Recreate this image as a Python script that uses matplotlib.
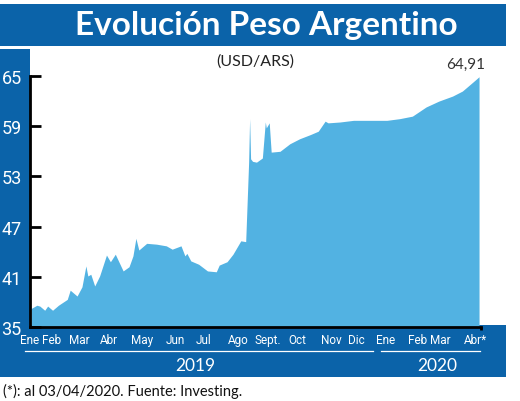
import matplotlib
matplotlib.use("Agg")
from matplotlib import pyplot as plt
from matplotlib.patches import Rectangle
from matplotlib.lines import Line2D
import numpy as np

# USD/ARS daily-ish readings
fechas = ['2019-01-02', '2019-01-08', '2019-01-11', '2019-01-16', '2019-01-19',
          '2019-01-24', '2019-01-30', '2019-02-08', '2019-02-11', '2019-02-18',
          '2019-02-23', '2019-02-27', '2019-03-01', '2019-03-04', '2019-03-08',
          '2019-03-13', '2019-03-20', '2019-03-24', '2019-03-29', '2019-04-06',
          '2019-04-12', '2019-04-16', '2019-04-19', '2019-04-22', '2019-04-30',
          '2019-05-10', '2019-05-20', '2019-05-26', '2019-06-04', '2019-06-08',
          '2019-06-10', '2019-06-14', '2019-06-22', '2019-07-01', '2019-07-10',
          '2019-07-13', '2019-07-21', '2019-07-27', '2019-07-30', '2019-08-04',
          '2019-08-09', '2019-08-12', '2019-08-13', '2019-08-14', '2019-08-16',
          '2019-08-20', '2019-08-26', '2019-08-29', '2019-08-30', '2019-09-02',
          '2019-09-04', '2019-09-13', '2019-09-23', '2019-10-03', '2019-10-14',
          '2019-10-22', '2019-10-29', '2019-11-01', '2019-11-13', '2019-11-27',
          '2019-12-14', '2019-12-31', '2020-01-13', '2020-01-26', '2020-02-09',
          '2020-02-22', '2020-03-07', '2020-03-17', '2020-03-28', '2020-04-03']
usd_ars = [37.2, 37.6, 37.5, 37.0, 37.5,
           37.0, 37.6, 38.3, 39.4, 38.7,
           39.8, 42.3, 41.1, 41.3, 39.9,
           41.1, 43.6, 42.8, 43.7, 41.7,
           42.2, 43.5, 45.6, 44.2, 45.0,
           44.9, 44.7, 44.3, 44.7, 43.5,
           43.8, 42.9, 42.5, 41.7, 41.6,
           42.4, 42.8, 43.7, 44.3, 45.3,
           45.2, 54.7, 59.9, 55.1, 54.8,
           54.7, 55.2, 59.5, 58.8, 59.4,
           55.9, 56.0, 56.9, 57.5, 58.0,
           58.4, 59.6, 59.4, 59.5, 59.7,
           59.7, 59.7, 59.9, 60.2, 61.3,
           62.0, 62.6, 63.2, 64.3, 64.91]

y_ticks = [35, 41, 47, 53, 59, 65]

# month labels (positions follow the reference layout)
mes_pos = ['2019-01-01', '2019-01-23', '2019-02-20', '2019-03-23', '2019-04-25',
           '2019-05-29', '2019-06-27', '2019-08-01', '2019-09-01', '2019-10-01',
           '2019-11-04', '2019-11-30', '2019-12-30', '2020-01-31', '2020-02-24',
           '2020-03-30']
mes_lbl = ['Ene', 'Feb', 'Mar', 'Abr', 'May', 'Jun', 'Jul', 'Ago', 'Sept.', 'Oct',
           'Nov', 'Dic', 'Ene', 'Feb', 'Mar', 'Abr*']

AZUL = '#0b63a9'
CELESTE = '#52b2e2'
W, H = 520, 402

x = np.array(fechas, dtype='datetime64[D]')
fig = plt.figure(figsize=(W / 100, H / 100), dpi=100)

def px(x0, y0, w, h):
    # pixel box (top-left origin) -> figure fraction
    return (x0 / W, 1 - (y0 + h) / H, w / W, h / H)

# blue frame pieces, kept under the axes
for box in [px(0, 5, 506, 42), px(0, 50, 30, 328), px(0, 326, 506, 52)]:
    fig.patches.append(Rectangle(box[:2], box[2], box[3], transform=fig.transFigure,
                                 facecolor=AZUL, edgecolor='none', zorder=-5))

fig.text(266 / W, 1 - 26 / H, 'Evolución Peso Argentino', color='white',
         fontsize=24, fontweight='bold', family='Lato', ha='center', va='center')

ax = fig.add_axes(px(30, 77, 451, 251))
ax.set_facecolor('none')
ax.fill_between(x, usd_ars, 35, color=CELESTE, lw=0)
ax.set_ylim(35, 65)
ax.set_xlim(np.datetime64('2019-01-01'), np.datetime64('2020-04-05'))

for s in ['top', 'right']:
    ax.spines[s].set_visible(False)
ax.spines['left'].set_linewidth(2)
ax.spines['bottom'].set_linewidth(2)

ax.set_yticks(y_ticks)
ax.tick_params(axis='y', direction='in', length=8, width=2, colors='black',
               labelcolor='white', labelsize=13, pad=6)
for t in ax.get_yticklabels():
    t.set_family('Roboto')

ax.set_xticks(np.array(mes_pos, dtype='datetime64[D]'), mes_lbl)
ax.tick_params(axis='x', length=0, labelcolor='white', labelsize=8.5, pad=4)
for t in ax.get_xticklabels():
    t.set_family('Roboto')

# little down-tick at the end of the x axis
ax.plot([1, 1], [0, -0.012], transform=ax.transAxes, color='black', lw=2,
        clip_on=False, solid_capstyle='butt')

ax.text(0.5, 1.06, '(USD/ARS)', transform=ax.transAxes, ha='center', va='center',
        fontsize=11.5, family='Lato', color='#222222')
ax.annotate(f'{usd_ars[-1]:.2f}'.replace('.', ','), (x[-1], usd_ars[-1]),
            xytext=(-10, 9), textcoords='offset points', ha='center', va='center',
            fontsize=11, family='Lato', color='#333333')

# year underlines and labels
for x0, x1 in [(25, 373), (381, 480)]:
    fig.add_artist(Line2D([x0 / W, x1 / W], [1 - 352 / H] * 2, color='white', lw=0.9))
fig.text(195 / W, 1 - 366 / H, '2019', color='white', fontsize=12.5,
         family='Lato', ha='center', va='center')
fig.text(437 / W, 1 - 366 / H, '2020', color='white', fontsize=12.5,
         family='Lato', ha='center', va='center')

fig.text(3 / W, 1 - 391 / H, '(*): al 03/04/2020. Fuente: Investing.', color='#111111',
         fontsize=10.5, family='Lato', ha='left', va='center')

fig.savefig('out.png', dpi=100)
